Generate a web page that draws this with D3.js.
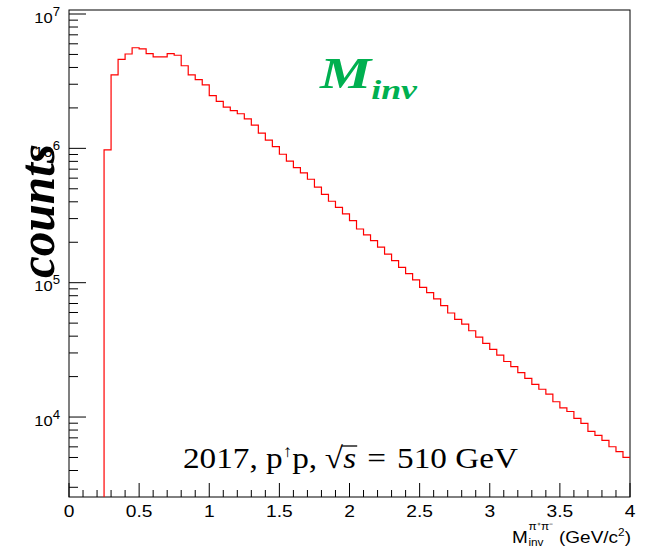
<!DOCTYPE html>
<html lang="en">
<head>
<meta charset="UTF-8">
<title>Minv histogram</title>
<style>
  body { margin: 0; background: #fff; }
  svg { display: block; }
</style>
</head>
<body>
<svg id="chart" width="651" height="548"></svg>
<script src="https://d3js.org/d3.v7.min.js"></script>
<script>
// histogram: counts per 0.05 GeV/c^2 bin, first filled bin starts at 0.25
const firstBinLow = 0.25;
const binWidth = 0.05;
const binCounts = [
  9.73e5, 3.52e6, 4.60e6, 5.04e6, 5.61e6, 5.50e6, 5.07e6, 4.79e6, 4.79e6, 5.07e6,
  4.93e6, 4.12e6, 3.52e6, 3.25e6, 2.97e6, 2.47e6, 2.24e6, 2.03e6, 1.91e6, 1.81e6,
  1.66e6, 1.49e6, 1.30e6, 1.15e6, 1.03e6, 9.04e5, 8.02e5, 7.19e5, 6.57e5, 5.89e5,
  5.14e5, 4.55e5, 4.04e5, 3.64e5, 3.25e5, 2.90e5, 2.51e5, 2.27e5, 2.06e5, 1.84e5,
  1.63e5, 1.46e5, 1.30e5, 1.17e5, 1.05e5, 9.22e4, 8.44e4, 7.57e4, 6.76e4, 5.95e4,
  5.33e4, 4.92e4, 4.39e4, 3.94e4, 3.53e4, 3.19e4, 2.89e4, 2.59e4, 2.37e4, 2.14e4,
  1.94e4, 1.75e4, 1.61e4, 1.48e4, 1.30e4, 1.17e4, 1.10e4, 9.78e3, 8.98e3, 7.83e3,
  7.31e3, 6.71e3, 6.01e3, 5.52e3, 5.01e3
];

const xTicks = [0, 0.5, 1, 1.5, 2, 2.5, 3, 3.5, 4];
const xTickLabels = ["0", "0.5", "1", "1.5", "2", "2.5", "3", "3.5", "4"];
const yDecades = [4, 5, 6, 7];

const svg = d3.select("#chart");
const plotLeft = 69, plotRight = 630, plotTop = 10, plotBottom = 497;
const stretch = 1.2; // the picture text is a bit wider than tall

const x = d3.scaleLinear().domain([0, 4]).range([plotLeft, plotRight]);
const y = d3.scaleLog().domain([2540, 1.071e7]).range([plotBottom, plotTop]);

// frame
svg.append("rect")
  .attr("x", plotLeft).attr("y", plotTop)
  .attr("width", plotRight - plotLeft).attr("height", plotBottom - plotTop)
  .attr("fill", "none").attr("stroke", "#000").attr("stroke-width", 1);

// x ticks
const xMinor = d3.range(1, 40).map(i => i / 10).filter(v => Math.abs(v * 2 - Math.round(v * 2)) > 1e-6);
const axisG = svg.append("g").attr("stroke", "#000").attr("stroke-width", 1);
xTicks.forEach(v => {
  axisG.append("line").attr("x1", x(v)).attr("x2", x(v)).attr("y1", plotBottom).attr("y2", plotBottom - 14);
});
xMinor.forEach(v => {
  axisG.append("line").attr("x1", x(v)).attr("x2", x(v)).attr("y1", plotBottom).attr("y2", plotBottom - 7);
});

// y ticks
yDecades.forEach(d => {
  const v = Math.pow(10, d);
  axisG.append("line").attr("x1", plotLeft).attr("x2", plotLeft + 17).attr("y1", y(v)).attr("y2", y(v));
});
const yMinor = [];
[3, 4, 5, 6].forEach(d => {
  for (let k = 2; k <= 9; k++) {
    const v = k * Math.pow(10, d);
    if (v > y.domain()[0] && v < y.domain()[1]) yMinor.push(v);
  }
});
yMinor.forEach(v => {
  axisG.append("line").attr("x1", plotLeft).attr("x2", plotLeft + 9).attr("y1", y(v)).attr("y2", y(v));
});

// tick labels
const sans = "'Liberation Sans', Arial, Helvetica, sans-serif";
const serif = "'Liberation Serif', 'Times New Roman', serif";

xTicks.forEach((v, i) => {
  svg.append("g")
    .attr("transform", `translate(${x(v)},517) scale(${stretch},1)`)
    .append("text")
    .attr("text-anchor", "middle")
    .attr("font-family", sans).attr("font-size", 16)
    .text(xTickLabels[i]);
});

yDecades.forEach(d => {
  const t = svg.append("g")
    .attr("transform", `translate(60,${y(Math.pow(10, d)) + 8.5}) scale(1.1,1)`)
    .append("text")
    .attr("text-anchor", "end")
    .attr("font-family", sans).attr("font-size", 15);
  t.append("tspan").text("10");
  t.append("tspan").attr("font-size", 12).attr("dy", -7).text(d);
});

// lay pieces left to right, measure, then fit to a width
function runText(g, pieces) {
  let pos = 0;
  pieces.forEach(p => {
    const px = p.x !== undefined ? p.x : pos;
    const t = g.append("text")
      .attr("x", px)
      .attr("y", p.dy || 0)
      .attr("font-family", p.family)
      .attr("font-size", p.size)
      .attr("font-style", p.italic ? "italic" : null)
      .attr("font-weight", p.bold ? "bold" : null)
      .attr("fill", p.fill || "#000")
      .text(p.text);
    p.x0 = px;
    p.w = t.node().getComputedTextLength();
    if (!p.stay) pos = px + p.w + (p.gap || 0);
  });
  return pos;
}

// x axis title
{
  const g = svg.append("g");
  const pcs = [{ text: "M", size: 16, family: sans }];
  runText(g, pcs);
  const sx = pcs[0].w + 0.5;
  const sub = [
    { text: "π⁺π⁻", size: 10, family: sans, dy: -13, x: sx, stay: true },
    { text: "inv", size: 10, family: sans, dy: 3, x: sx, stay: true }
  ];
  runText(g, sub);
  const rx = sx + Math.max(sub[0].w, sub[1].w) + 6;
  const rest = [
    { text: "(GeV/c", size: 16, family: sans, x: rx },
    { text: "2", size: 10, family: sans, dy: -7 },
    { text: ")", size: 16, family: sans }
  ];
  const total = runText(g, rest);
  g.attr("transform", `translate(512,543) scale(${119 / total},1)`);
}

// y axis title
{
  const g = svg.append("g");
  const t = g.append("text")
    .attr("text-anchor", "middle")
    .attr("font-family", serif)
    .attr("font-size", 40).attr("font-style", "italic").attr("font-weight", "bold")
    .text("counts");
  const L = t.node().getComputedTextLength();
  const b = 134 / L;
  g.attr("transform", `translate(54,211) scale(${b * 1.05},${b}) rotate(-90)`);
}

// histogram
const pts = [[firstBinLow, y.domain()[0]]];
binCounts.forEach((c, i) => pts.push([firstBinLow + i * binWidth, c]));
pts.push([firstBinLow + binCounts.length * binWidth, binCounts[binCounts.length - 1]]);

svg.append("clipPath").attr("id", "frameClip")
  .append("rect").attr("x", plotLeft).attr("y", plotTop)
  .attr("width", plotRight - plotLeft).attr("height", plotBottom - plotTop);

const line = d3.line()
  .x(d => x(d[0]))
  .y(d => y(d[1]))
  .curve(d3.curveStepAfter);

svg.append("path")
  .datum(pts)
  .attr("d", line)
  .attr("clip-path", "url(#frameClip)")
  .attr("fill", "none")
  .attr("stroke", "#ff0000")
  .attr("stroke-width", 1.2);

// title M_inv
{
  const g = svg.append("g");
  const pcs = [
    { text: "M", size: 45, family: serif, italic: true, bold: true, fill: "#00b050" },
    { text: "inv", size: 28, family: serif, italic: true, bold: true, fill: "#00b050", dy: 11 }
  ];
  const w = runText(g, pcs);
  g.attr("transform", `translate(320,88) scale(${97 / w},1)`);
}

// annotation
{
  const g = svg.append("g");
  const pcs = [
    { text: "2017, p", size: 30, family: serif },
    { text: "↑", size: 17, family: serif, dy: -11 },
    { text: "p,", size: 30, family: serif, gap: 7 },
    { text: "√", size: 30, family: serif },
    { text: "s", size: 30, family: serif, italic: true, gap: 10 },
    { text: "=", size: 30, family: serif, gap: 10 },
    { text: "510 GeV", size: 30, family: serif }
  ];
  const w = runText(g, pcs);
  const s = pcs[4];
  g.append("line")
    .attr("x1", s.x0 - 1).attr("x2", s.x0 + s.w + 1)
    .attr("y1", -22).attr("y2", -22)
    .attr("stroke", "#000").attr("stroke-width", 1.3);
  g.attr("transform", `translate(183,468) scale(${335 / w},1)`);
}
</script>
</body>
</html>
